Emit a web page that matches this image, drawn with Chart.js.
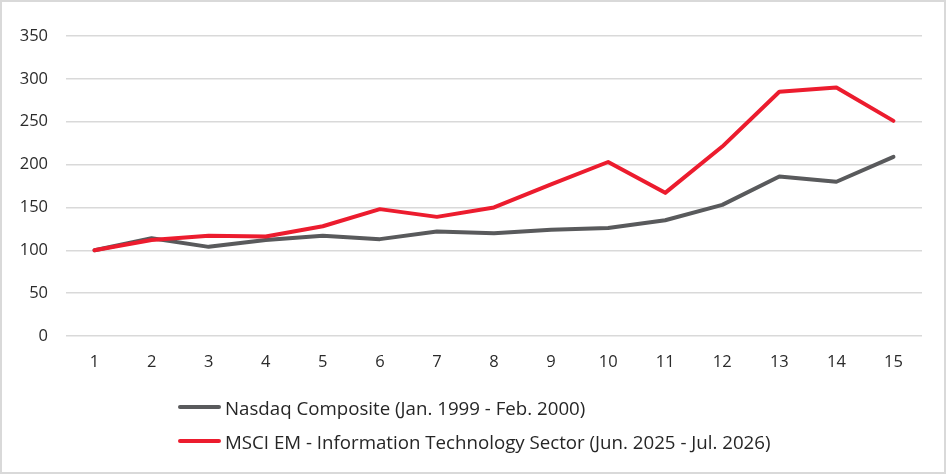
<!DOCTYPE html>
<html>
<head>
<meta charset="utf-8">
<script src="https://cdn.jsdelivr.net/npm/chart.js@4"></script>
<style>
  html, body { margin: 0; padding: 0; background: #fff; }
  #wrap { position: relative; width: 946px; height: 474px; overflow: hidden; }
  #wrap canvas { position: absolute; left: 0; top: 0; }
  #frame { position: absolute; left: 0; top: 0; width: 946px; height: 474px; box-sizing: border-box; border: 2px solid #d9d9d9; pointer-events: none; }
  #legend { position: absolute; left: 178px; top: 393px; font-family: "Open Sans", sans-serif; font-size: 18.7px; color: #262626; }
  .item { display: flex; align-items: center; height: 28px; margin-bottom: 6px; white-space: nowrap; }
  .swatch { width: 43px; height: 4px; border-radius: 2px; margin-right: 4px; }
</style>
</head>
<body>
<div id="wrap">
  <canvas id="c" width="946" height="474"></canvas>
  <div id="legend"></div>
  <div id="frame"></div>
</div>
<script>
const categories = ['1','2','3','4','5','6','7','8','9','10','11','12','13','14','15'];
const nasdaqLabel = 'Nasdaq Composite (Jan. 1999 - Feb. 2000)';
const nasdaq = [100, 114, 104, 112, 117, 113, 122, 120, 124, 126, 135, 153, 186, 180, 209];
const msciLabel = 'MSCI EM - Information Technology Sector (Jun. 2025 - Jul. 2026)';
const msciEmIt = [100, 112, 117, 116, 128, 148, 139, 150, 177, 203, 167, 221, 285, 290, 251];
const yMin = 0, yMax = 350, yStep = 50;

const grayColor = '#595a5c';
const redColor = '#ec1c2e';

const datasets = [
  { label: nasdaqLabel, data: nasdaq, borderColor: grayColor, backgroundColor: grayColor, order: 1 },
  { label: msciLabel, data: msciEmIt, borderColor: redColor, backgroundColor: redColor, order: 0 }
].map(d => Object.assign(d, { borderWidth: 4, pointRadius: 0, tension: 0, fill: false, borderJoinStyle: 'round', borderCapStyle: 'round' }));

const font = { family: '"Open Sans", sans-serif', size: 16.5 };

new Chart(document.getElementById('c'), {
  type: 'line',
  data: { labels: categories, datasets },
  options: {
    responsive: false,
    animation: false,
    layout: { padding: { left: 0, right: 24, top: 36, bottom: 100 } },
    plugins: { legend: { display: false }, tooltip: { enabled: false } },
    scales: {
      x: {
        offset: true,
        grid: { display: false, drawTicks: false },
        border: { display: false },
        ticks: { font, color: '#2b2b2b', padding: 16, maxRotation: 0 },
        afterFit: s => { s.height = 38; }
      },
      y: {
        min: yMin, max: yMax,
        grid: { color: '#d9d9d9', lineWidth: 1.5, drawTicks: false },
        border: { display: false },
        ticks: { stepSize: yStep, font, color: '#2b2b2b', padding: 18 },
        afterFit: s => { s.width = 66; }
      }
    }
  }
});

const legend = document.getElementById('legend');
datasets.forEach(d => {
  const item = document.createElement('div');
  item.className = 'item';
  const sw = document.createElement('span');
  sw.className = 'swatch';
  sw.style.background = d.borderColor;
  const tx = document.createElement('span');
  tx.textContent = d.label;
  item.appendChild(sw); item.appendChild(tx);
  legend.appendChild(item);
});
</script>
</body>
</html>
